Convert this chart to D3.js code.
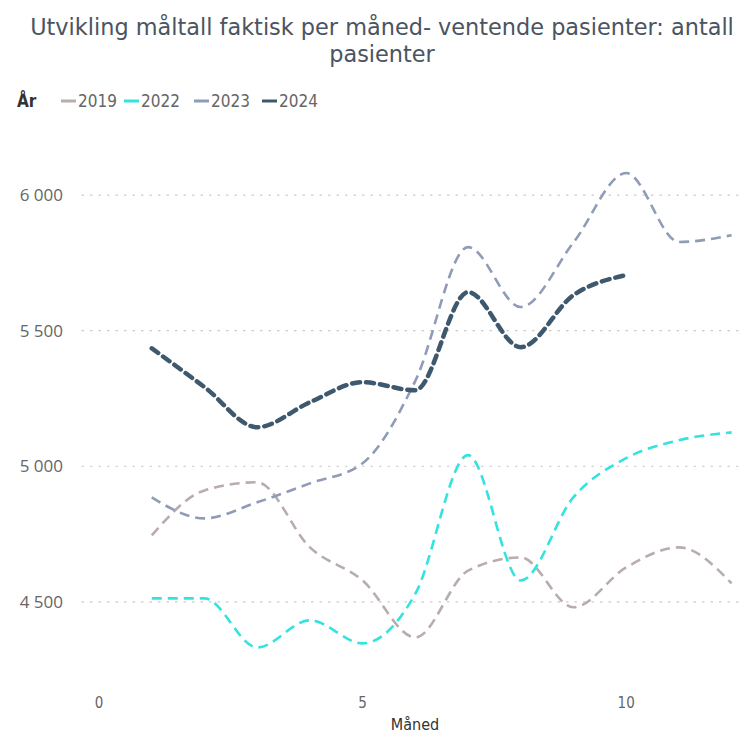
<!DOCTYPE html>
<html><head><meta charset="utf-8">
<script src="https://cdn.jsdelivr.net/npm/d3@7"></script>
<style>body{margin:0;background:#fff;}svg{display:block;}</style>
</head><body>
<svg id="c" width="739" height="733"></svg>
<script>
const months = [1,2,3,4,5,6,7,8,9,10,11,12];
const years = ["2019","2022","2023","2024"];
const v2019 = [4745,4911,4941,4701,4579,4369,4615,4664,4480,4627,4701,4568];
const v2022 = [4513,4513,4332,4432,4347,4530,5041,4579,4886,5030,5096,5125];
const v2023 = [4885,4808,4867,4937,5011,5315,5808,5587,5825,6081,5827,5852];
const v2024 = [5435,5292,5144,5236,5310,5280,5642,5439,5631,5705];
const yTicks = [4500,5000,5500,6000];
const xTicks = [0,5,10];
const colors = ["#B9ACAC","#33E3DF","#8F9BB7","#3E586E"];

const seriesVals = [v2019,v2022,v2023,v2024];
const svg = d3.select("#c");
const font = "'Open Sans', sans-serif";
const cond = "'DejaVu Sans Condensed', sans-serif";

const x = d3.scaleLinear().domain([-0.323,12.14]).range([82,739]);
const y = d3.scaleLinear().domain([4212,6166]).range([680,150]);

// title
const tg = svg.append("g").attr("font-family","'DejaVu Sans', sans-serif").attr("font-size",22.4)
  .attr("fill","#4A5462").attr("text-anchor","middle");
tg.append("text").attr("x",382).attr("y",35).text("Utvikling måltall faktisk per måned- ventende pasienter: antall");
tg.append("text").attr("x",382).attr("y",62).text("pasienter");

// legend
const lg = svg.append("g").attr("font-family",cond).attr("font-size",17);
lg.append("text").attr("x",17).attr("y",107).attr("font-weight","bold").attr("fill","#333").text("År");
const legX = [61,124,194,262];
years.forEach((yr,i)=>{
  lg.append("line").attr("x1",legX[i]).attr("x2",legX[i]+15).attr("y1",101).attr("y2",101)
    .attr("stroke",colors[i]).attr("stroke-width",3);
  lg.append("text").attr("x",legX[i]+17).attr("y",107).attr("fill","#666").text(yr);
});

// gridlines
svg.append("g").selectAll("line").data(yTicks).join("line")
  .attr("x1",82).attr("x2",739).attr("y1",d=>y(d)).attr("y2",d=>y(d))
  .attr("stroke","#C8C8C8").attr("stroke-width",1.2).attr("stroke-dasharray","1.5,7").attr("stroke-linecap","round");

// y labels
svg.append("g").selectAll("text").data(yTicks).join("text")
  .attr("x",63).attr("y",d=>y(d)+6).attr("text-anchor","end")
  .attr("font-family",font).attr("font-size",17).attr("fill","#666")
  .text(d=>d3.format(",")(d).replace(","," "));

// x labels
svg.append("g").selectAll("text").data(xTicks).join("text")
  .attr("x",d=>x(d)).attr("y",708).attr("text-anchor","middle")
  .attr("font-family",cond).attr("font-size",15).attr("fill","#666").text(d=>d);
svg.append("text").attr("x",415).attr("y",730).attr("text-anchor","middle")
  .attr("font-family",cond).attr("font-size",16).attr("fill","#333").text("Måned");

// lines
const line = d3.line().x(d=>x(d[0])).y(d=>y(d[1])).curve(d3.curveMonotoneX);
seriesVals.forEach((vals,i)=>{
  const pts = vals.map((v,j)=>[months[j],v]);
  const thick = i===3;
  svg.append("path").attr("d",line(pts)).attr("fill","none")
    .attr("stroke",colors[i]).attr("stroke-width",thick?4.5:2.6)
    .attr("stroke-dasharray",thick?"8,6":"10,6")
    .attr("stroke-linecap",thick?"round":"butt");
});
</script>
</body></html>
